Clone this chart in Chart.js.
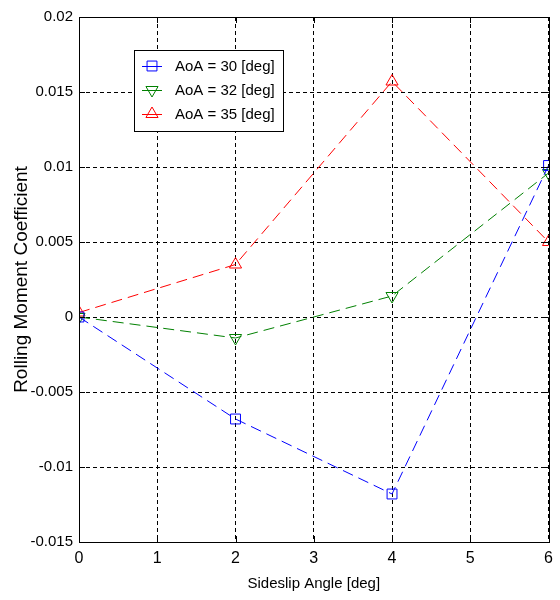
<!DOCTYPE html>
<html lang="en">
<head>
  <meta charset="UTF-8">
  <title>Rolling Moment Coefficient</title>
  <script src="https://cdn.jsdelivr.net/npm/chart.js"></script>
  <style>
    body {
      margin: 0;
      padding: 0;
      background-color: #ffffff;
    }
    .chart-container {
      width: 560px;
      height: 600px;
    }
  </style>
</head>
<body>
  <div class="chart-container">
    <canvas id="momentChart" width="560" height="600"></canvas>
  </div>

  <script>
    // values
    const sideslip = [0, 2, 4, 6];
    const aoa30 = [0, -0.0068, -0.0118, 0.0101];
    const aoa32 = [0, -0.0014, 0.0014, 0.0096];
    const aoa35 = [0.0003, 0.0035, 0.0157, 0.0050];

    const seriesLabels = ["AoA = 30 [deg]", "AoA = 32 [deg]", "AoA = 35 [deg]"];
    const xTickLabels = ["0", "1", "2", "3", "4", "5", "6"];
    const yTickLabels = ["-0.015", "-0.01", "-0.005", "0", "0.005", "0.01", "0.015", "0.02"];

    const textFont = '"Liberation Sans", Arial, sans-serif';

    function toPoints(values) {
      return sideslip.map((x, i) => ({ x: x, y: values[i] }));
    }

    function makeSeries(label, values, color, style, rotation) {
      return {
        label: label,
        data: toPoints(values),
        borderColor: color,
        backgroundColor: color,
        borderWidth: 1,
        borderDash: [11, 6],
        pointStyle: style,
        pointRotation: rotation,
        pointRadius: 7,
        pointBorderColor: color,
        pointBackgroundColor: "rgba(0,0,0,0)",
        pointBorderWidth: 1,
        tension: 0
      };
    }

    // box, inward ticks and the in-plot legend, matlab style
    const framePlugin = {
      id: "frame",
      afterDraw(chart) {
        const ctx = chart.ctx;
        const a = chart.chartArea;
        ctx.save();
        ctx.strokeStyle = "#000000";
        ctx.lineWidth = 1;
        ctx.setLineDash([]);
        ctx.strokeRect(Math.round(a.left) + 0.5, Math.round(a.top) + 0.5,
          Math.round(a.right - a.left), Math.round(a.bottom - a.top));

        const tl = 6;
        ctx.beginPath();
        chart.scales.x.ticks.forEach(t => {
          const px = Math.round(chart.scales.x.getPixelForValue(t.value)) + 0.5;
          ctx.moveTo(px, a.bottom); ctx.lineTo(px, a.bottom - tl);
          ctx.moveTo(px, a.top); ctx.lineTo(px, a.top + tl);
        });
        chart.scales.y.ticks.forEach(t => {
          const py = Math.round(chart.scales.y.getPixelForValue(t.value)) + 0.5;
          ctx.moveTo(a.left, py); ctx.lineTo(a.left + tl, py);
          ctx.moveTo(a.right, py); ctx.lineTo(a.right - tl, py);
        });
        ctx.stroke();

        // legend box
        const bx = a.left + 55, by = a.top + 33, bw = 149, bh = 81;
        ctx.fillStyle = "#ffffff";
        ctx.fillRect(bx, by, bw, bh);
        ctx.strokeRect(bx + 0.5, by + 0.5, bw, bh);
        ctx.textBaseline = "middle";
        ctx.textAlign = "left";
        chart.data.datasets.forEach((ds, i) => {
          const ry = by + 16 + i * 24;
          ctx.strokeStyle = ds.borderColor;
          ctx.beginPath();
          ctx.moveTo(bx + 8, ry + 0.5);
          ctx.lineTo(bx + 28, ry + 0.5);
          ctx.stroke();
          ctx.fillStyle = "rgba(0,0,0,0)";
          Chart.helpers.drawPoint(ctx, {
            pointStyle: ds.pointStyle,
            rotation: ds.pointRotation,
            radius: 7,
            borderWidth: 1
          }, bx + 18, ry);
          ctx.fillStyle = "#000000";
          ctx.font = "15px " + textFont;
          ctx.fillText(ds.label, bx + 41, ry + 1);
        });
        ctx.restore();
      }
    };

    const ctx = document.getElementById("momentChart").getContext("2d");
    const chartInstance = new Chart(ctx, {
      type: "line",
      data: {
        datasets: [
          makeSeries(seriesLabels[0], aoa30, "#0000ff", "rect", 0),
          makeSeries(seriesLabels[1], aoa32, "#008000", "triangle", 180),
          makeSeries(seriesLabels[2], aoa35, "#ff0000", "triangle", 0)
        ]
      },
      options: {
        responsive: false,
        animation: false,
        layout: { padding: { top: 17, right: 8, left: 0, bottom: 0 } },
        plugins: {
          legend: { display: false },
          tooltip: { enabled: false }
        },
        scales: {
          x: {
            type: "linear",
            min: 0,
            max: 6,
            afterFit: scale => { scale.height = 58; },
            ticks: {
              stepSize: 1,
              padding: 7,
              color: "#000000",
              font: { family: textFont, size: 16 },
              callback: (v, i) => xTickLabels[i]
            },
            grid: { color: "#000000", drawTicks: false },
            border: { display: false, dash: [4, 3] },
            title: {
              display: true,
              text: "Sideslip Angle [deg]",
              color: "#000000",
              font: { family: textFont, size: 15 },
              padding: { top: 0, bottom: 7 }
            }
          },
          y: {
            min: -0.015,
            max: 0.02,
            afterFit: scale => { scale.width = 79; },
            ticks: {
              stepSize: 0.005,
              padding: 6,
              color: "#000000",
              font: { family: textFont, size: 15 },
              callback: (v, i) => yTickLabels[i]
            },
            grid: { color: "#000000", drawTicks: false },
            border: { display: false, dash: [4, 3] },
            title: {
              display: true,
              text: "Rolling Moment Coefficient",
              color: "#000000",
              font: { family: textFont, size: 19 },
              padding: { top: 10, bottom: 0 }
            }
          }
        }
      },
      plugins: [framePlugin]
    });
  </script>
</body>
</html>
